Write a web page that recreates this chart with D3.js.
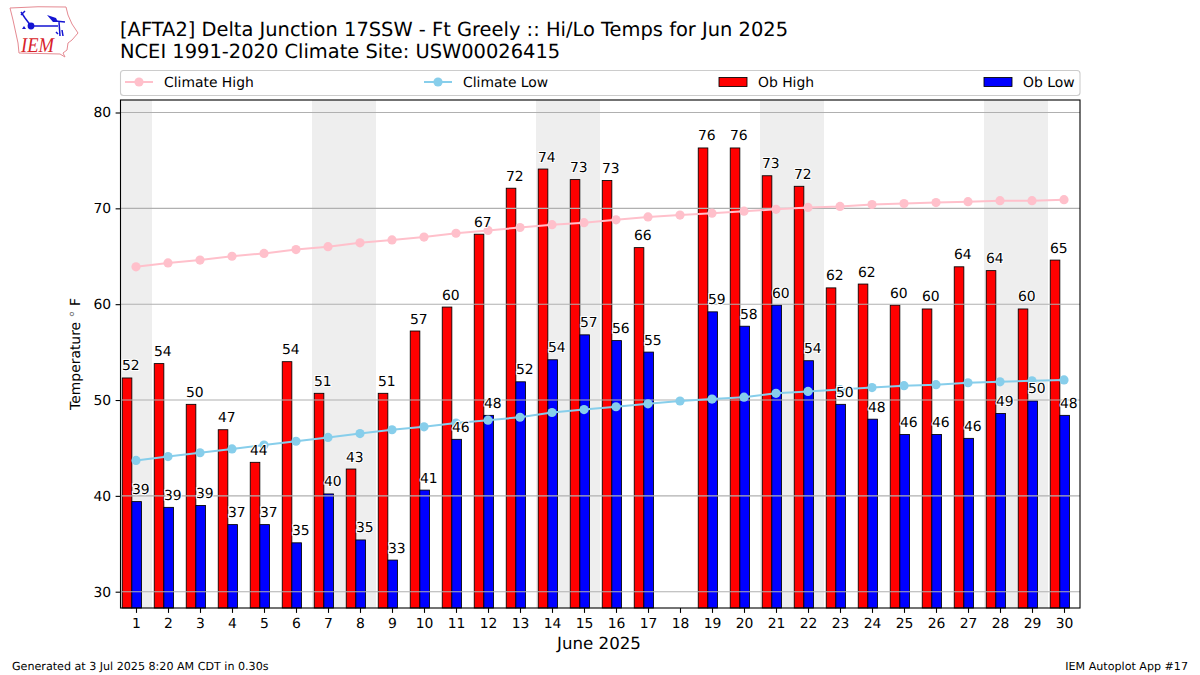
<!DOCTYPE html>
<html>
<head>
<meta charset="utf-8">
<script src="https://cdn.jsdelivr.net/npm/d3@7"></script>
<style>
html, body { margin: 0; padding: 0; background: #fff; }
svg { display: block; }
text { font-family: "DejaVu Sans", sans-serif; fill: #000; text-rendering: geometricPrecision; }
</style>
</head>
<body>
<svg id="chart" width="1200" height="675"></svg>
<script>
const days = d3.range(1, 31);
const obHigh = [52.3, 53.8, 49.55, 46.9, 43.5, 54.0, 50.7, 42.8, 50.7, 57.2, 59.7, 67.3, 72.1, 74.1, 73.0, 72.9, 65.9, null, 76.3, 76.3, 73.4, 72.3, 61.7, 62.1, 59.9, 59.5, 63.9, 63.5, 59.5, 64.6];
const obLow = [39.4, 38.8, 39.0, 37.0, 37.0, 35.1, 40.2, 35.4, 33.3, 40.6, 45.9, 48.4, 51.9, 54.2, 56.8, 56.2, 55.0, null, 59.2, 57.7, 59.9, 54.1, 49.55, 48.0, 46.4, 46.4, 46.0, 48.6, 49.9, 48.4];
const climateHigh = [63.9, 64.3, 64.6, 65.0, 65.3, 65.7, 66.0, 66.4, 66.7, 67.0, 67.4, 67.7, 68.0, 68.3, 68.5, 68.8, 69.1, 69.3, 69.5, 69.7, 69.9, 70.1, 70.2, 70.4, 70.5, 70.6, 70.7, 70.8, 70.8, 70.9];
const climateLow = [43.7, 44.1, 44.5, 44.9, 45.3, 45.7, 46.1, 46.5, 46.9, 47.2, 47.6, 47.9, 48.2, 48.7, 49.0, 49.3, 49.6, 49.9, 50.1, 50.3, 50.7, 50.9, 51.1, 51.3, 51.5, 51.6, 51.8, 51.9, 52.0, 52.1];
const weekends = [[0.5, 1.5], [6.5, 8.5], [13.5, 15.5], [20.5, 22.5], [27.5, 29.5]];
const yTicks = [30, 40, 50, 60, 70, 80];

const plotLeft = 120.5, plotRight = 1080, plotTop = 100, plotBottom = 608;
const svg = d3.select("#chart");

const x = d3.scaleLinear().domain([0.5, 30.5]).range([120, 1080]);
const y = d3.scaleLinear().domain([30, 80]).range([591.7, 112.5]);
const barW = 0.3;

// weekend shading
svg.append("g").selectAll("rect").data(weekends).join("rect")
  .attr("x", d => Math.max(x(d[0]), plotLeft)).attr("y", plotTop)
  .attr("width", d => x(d[1]) - Math.max(x(d[0]), plotLeft))
  .attr("height", plotBottom - plotTop)
  .attr("fill", "#eeeeee");

// bars
function drawBars(values, offset, color) {
  svg.append("g").selectAll("rect")
    .data(days.filter((d, i) => values[i] !== null))
    .join("rect")
    .attr("x", d => x(d + offset))
    .attr("y", d => y(values[d - 1]))
    .attr("width", x(barW) - x(0))
    .attr("height", d => plotBottom - y(values[d - 1]))
    .attr("fill", color)
    .attr("stroke", "#000")
    .attr("stroke-width", 0.85);
}
drawBars(obHigh, -0.43, "#ff0000");
drawBars(obLow, -0.13, "#0000ff");

// grid sits above the bars
svg.append("g").selectAll("line").data(yTicks).join("line")
  .attr("x1", plotLeft).attr("x2", plotRight)
  .attr("y1", d => y(d)).attr("y2", d => y(d))
  .attr("stroke", "#b0b0b0").attr("stroke-width", 1.1);

// climate lines
const line = d3.line().x((d, i) => x(days[i])).y(d => y(d));
function drawClimate(values, color) {
  svg.append("path").attr("d", line(values))
    .attr("fill", "none").attr("stroke", color).attr("stroke-width", 2);
  svg.append("g").selectAll("circle").data(values).join("circle")
    .attr("cx", (d, i) => x(days[i])).attr("cy", d => y(d))
    .attr("r", 4.6).attr("fill", color);
}
drawClimate(climateHigh, "#ffc0cb");
drawClimate(climateLow, "#87ceeb");

// value labels with white halo
function drawLabels(values, offset) {
  svg.append("g").selectAll("text")
    .data(days.filter((d, i) => values[i] !== null))
    .join("text")
    .attr("x", d => x(d + offset))
    .attr("y", d => y(values[d - 1]) - 7.5)
    .attr("text-anchor", "middle")
    .attr("font-size", 13.9)
    .attr("stroke", "#fff").attr("stroke-width", 2).attr("paint-order", "stroke")
    .text(d => d3.format(".0f")(values[d - 1]));
}
drawLabels(obHigh, -0.16);
drawLabels(obLow, 0.15);

// frame
svg.append("rect").attr("x", plotLeft).attr("y", plotTop)
  .attr("width", plotRight - plotLeft).attr("height", plotBottom - plotTop)
  .attr("fill", "none").attr("stroke", "#000").attr("stroke-width", 1.1);

// axes
const xAxis = d3.axisBottom(x).tickValues(days).tickFormat(d3.format("d")).tickSize(4.9).tickPadding(5.5);
const yAxis = d3.axisLeft(y).tickValues(yTicks).tickFormat(d3.format("d")).tickSize(4.9).tickPadding(4.5);
const gx = svg.append("g").attr("transform", `translate(0,${plotBottom})`).call(xAxis);
const gy = svg.append("g").attr("transform", `translate(${plotLeft},0)`).call(yAxis);
[gx, gy].forEach(g => {
  g.select(".domain").remove();
  g.selectAll("line").attr("stroke", "#000").attr("stroke-width", 1.1);
  g.selectAll("text").attr("font-size", 13.9).attr("font-family", '"DejaVu Sans", sans-serif').attr("fill", "#000");
});

// titles
svg.append("text").attr("x", 120).attr("y", 36).attr("font-size", 19.44)
  .text("[AFTA2] Delta Junction 17SSW - Ft Greely :: Hi/Lo Temps for Jun 2025");
svg.append("text").attr("x", 120).attr("y", 58).attr("font-size", 19.44)
  .text("NCEI 1991-2020 Climate Site: USW00026415");
svg.append("text").attr("x", 599).attr("y", 649).attr("text-anchor", "middle").attr("font-size", 16.67)
  .text("June 2025");
const yLabel = svg.append("text").attr("transform", "translate(80,354) rotate(-90)").attr("text-anchor", "middle").attr("font-size", 13.9);
yLabel.append("tspan").text("Temperature ");
yLabel.append("tspan").style("fill", "#777").text("°");
yLabel.append("tspan").text(" F");
svg.append("text").attr("x", 12).attr("y", 670).attr("font-size", 11.11)
  .text("Generated at 3 Jul 2025 8:20 AM CDT in 0.30s");
svg.append("text").attr("x", 1188).attr("y", 670).attr("text-anchor", "end").attr("font-size", 11.11)
  .text("IEM Autoplot App #17");

// legend
const legend = svg.append("g");
legend.append("rect").attr("x", 120.5).attr("y", 70.5).attr("width", 959.5).attr("height", 25).attr("rx", 3)
  .attr("fill", "#fff").attr("stroke", "#cccccc").attr("stroke-width", 1.1);
function legendLine(x0, color, label) {
  legend.append("line").attr("x1", x0).attr("x2", x0 + 28).attr("y1", 82).attr("y2", 82)
    .attr("stroke", color).attr("stroke-width", 2);
  legend.append("circle").attr("cx", x0 + 14).attr("cy", 82).attr("r", 4.6).attr("fill", color);
  legend.append("text").attr("x", x0 + 39).attr("y", 86.5).attr("font-size", 13.9).text(label);
}
function legendBar(x0, color, label) {
  legend.append("rect").attr("x", x0).attr("y", 77.5).attr("width", 28).attr("height", 9)
    .attr("fill", color).attr("stroke", "#000").attr("stroke-width", 0.85);
  legend.append("text").attr("x", x0 + 39).attr("y", 86.5).attr("font-size", 13.9).text(label);
}
legendLine(125, "#ffc0cb", "Climate High");
legendLine(424, "#87ceeb", "Climate Low");
legendBar(719, "#ff0000", "Ob High");
legendBar(984, "#0000ff", "Ob Low");

// IEM logo
const logo = svg.append("g");
logo.append("path")
  .attr("d", "M10 8 Q38 6 66 7 L68 15 L72 24 L78 33 L72 40 L68 43 L67 50 L63 53 L65 57 L60 54 L19 53 L18 43 L13 20 Z")
  .attr("fill", "#fff").attr("stroke", "#e58a92").attr("stroke-width", 1);
logo.append("path")
  .attr("d", "M31 26 L58 26 M59 22 L60 36 M31 26 L25 18 L21 12 M21 15 L25 11 M55 21 L65 22 M56 32 L58 34 M62 30 L63 36")
  .attr("fill", "none").attr("stroke", "#1414d2").attr("stroke-width", 1.5);
logo.append("path").attr("d", "M47 15 L56 18 L58 22 L53 22 Z").attr("fill", "#1414d2");
logo.append("path").attr("d", "M22 29 L24 26 L26 29 Z").attr("fill", "#1414d2");
logo.append("circle").attr("cx", 31).attr("cy", 26).attr("r", 3.4).attr("fill", "#1414d2");
logo.append("text").attr("x", 21).attr("y", 52).attr("font-size", 21).attr("font-style", "italic")
  .attr("textLength", 33).attr("lengthAdjust", "spacingAndGlyphs")
  .style("font-family", '"Liberation Serif", serif')
  .style("fill", "#d8232a").text("IEM");
</script>
</body>
</html>
